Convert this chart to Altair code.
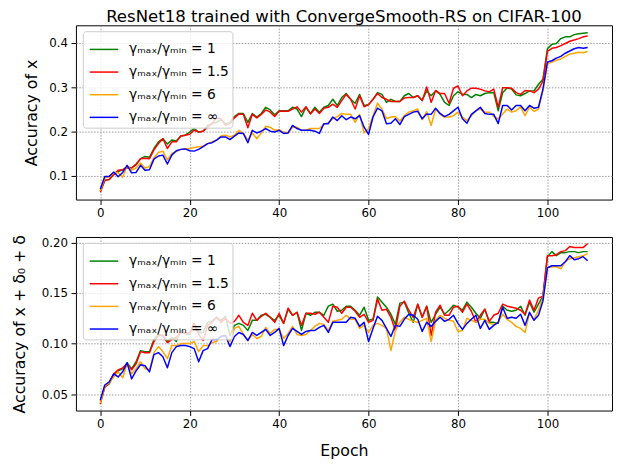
import altair as alt
import pandas as pd

epochs = list(range(110))
series_labels = ["γₘₐₓ/γₘᵢₙ = 1", "γₘₐₓ/γₘᵢₙ = 1.5", "γₘₐₓ/γₘᵢₙ = 6", "γₘₐₓ/γₘᵢₙ = ∞"]
series_colors = ["green", "red", "orange", "blue"]

top_g = [0.066, 0.090, 0.092, 0.103, 0.110, 0.114, 0.121, 0.118, 0.127, 0.139,
         0.144, 0.142, 0.162, 0.177, 0.184, 0.172, 0.181, 0.179, 0.190, 0.192,
         0.199, 0.207, 0.199, 0.201, 0.214, 0.218, 0.221, 0.227, 0.218, 0.221,
         0.234, 0.241, 0.241, 0.221, 0.241, 0.233, 0.241, 0.255, 0.249, 0.238,
         0.247, 0.247, 0.247, 0.255, 0.251, 0.234, 0.255, 0.241, 0.255, 0.244,
         0.255, 0.259, 0.273, 0.259, 0.277, 0.286, 0.273, 0.264, 0.284, 0.259,
         0.261, 0.273, 0.288, 0.284, 0.266, 0.273, 0.268, 0.268, 0.281, 0.286,
         0.277, 0.281, 0.271, 0.292, 0.281, 0.292, 0.284, 0.266, 0.259, 0.281,
         0.290, 0.284, 0.284, 0.277, 0.284, 0.281, 0.286, 0.288, 0.288, 0.247,
         0.288, 0.299, 0.296, 0.283, 0.281, 0.286, 0.292, 0.292, 0.307, 0.318,
         0.387, 0.397, 0.399, 0.410, 0.414, 0.414, 0.419, 0.421, 0.422, 0.423]
top_r = [0.063, 0.090, 0.092, 0.103, 0.113, 0.114, 0.118, 0.118, 0.125, 0.139,
         0.140, 0.139, 0.159, 0.173, 0.184, 0.162, 0.177, 0.177, 0.190, 0.192,
         0.194, 0.203, 0.199, 0.201, 0.210, 0.218, 0.231, 0.229, 0.214, 0.218,
         0.231, 0.240, 0.239, 0.209, 0.239, 0.231, 0.239, 0.249, 0.244, 0.234,
         0.246, 0.246, 0.246, 0.251, 0.256, 0.244, 0.256, 0.240, 0.251, 0.241,
         0.253, 0.255, 0.262, 0.255, 0.270, 0.284, 0.273, 0.251, 0.281, 0.256,
         0.261, 0.273, 0.286, 0.277, 0.273, 0.268, 0.268, 0.268, 0.276, 0.277,
         0.277, 0.281, 0.270, 0.301, 0.266, 0.293, 0.286, 0.286, 0.264, 0.298,
         0.303, 0.281, 0.292, 0.298, 0.298, 0.296, 0.292, 0.290, 0.296, 0.255,
         0.299, 0.299, 0.298, 0.288, 0.284, 0.293, 0.292, 0.288, 0.296, 0.314,
         0.381, 0.388, 0.390, 0.394, 0.399, 0.404, 0.407, 0.410, 0.414, 0.416]
top_o = [0.066, 0.096, 0.098, 0.107, 0.107, 0.097, 0.123, 0.113, 0.118, 0.129,
         0.118, 0.121, 0.141, 0.153, 0.156, 0.136, 0.151, 0.155, 0.160, 0.161,
         0.162, 0.164, 0.166, 0.167, 0.173, 0.177, 0.181, 0.190, 0.192, 0.188,
         0.192, 0.203, 0.196, 0.181, 0.197, 0.184, 0.197, 0.212, 0.210, 0.203,
         0.204, 0.199, 0.197, 0.210, 0.210, 0.203, 0.203, 0.207, 0.207, 0.207,
         0.216, 0.221, 0.229, 0.234, 0.241, 0.239, 0.239, 0.221, 0.239, 0.197,
         0.207, 0.236, 0.264, 0.251, 0.229, 0.233, 0.234, 0.224, 0.236, 0.244,
         0.247, 0.251, 0.227, 0.245, 0.214, 0.251, 0.239, 0.233, 0.233, 0.236,
         0.244, 0.233, 0.225, 0.236, 0.247, 0.251, 0.244, 0.244, 0.234, 0.229,
         0.240, 0.251, 0.244, 0.247, 0.256, 0.236, 0.255, 0.246, 0.251, 0.292,
         0.353, 0.357, 0.361, 0.364, 0.370, 0.375, 0.377, 0.379, 0.378, 0.381]
top_b = [0.070, 0.099, 0.099, 0.109, 0.098, 0.108, 0.124, 0.107, 0.108, 0.124,
         0.113, 0.114, 0.138, 0.145, 0.147, 0.127, 0.147, 0.157, 0.160, 0.161,
         0.157, 0.156, 0.160, 0.166, 0.173, 0.175, 0.181, 0.188, 0.188, 0.182,
         0.190, 0.197, 0.196, 0.175, 0.203, 0.197, 0.201, 0.207, 0.201, 0.199,
         0.203, 0.196, 0.197, 0.214, 0.207, 0.203, 0.203, 0.203, 0.201, 0.196,
         0.218, 0.218, 0.233, 0.225, 0.236, 0.227, 0.233, 0.229, 0.236, 0.210,
         0.194, 0.233, 0.253, 0.247, 0.218, 0.219, 0.229, 0.216, 0.234, 0.239,
         0.244, 0.246, 0.229, 0.240, 0.239, 0.253, 0.241, 0.234, 0.239, 0.247,
         0.255, 0.229, 0.219, 0.239, 0.247, 0.255, 0.241, 0.239, 0.239, 0.218,
         0.259, 0.259, 0.249, 0.259, 0.259, 0.247, 0.259, 0.253, 0.255, 0.296,
         0.357, 0.360, 0.366, 0.370, 0.377, 0.382, 0.387, 0.390, 0.388, 0.390]

bot_g = [0.043, 0.057, 0.060, 0.069, 0.073, 0.075, 0.081, 0.075, 0.082, 0.093,
         0.092, 0.092, 0.104, 0.109, 0.108, 0.102, 0.106, 0.102, 0.113, 0.110,
         0.109, 0.120, 0.111, 0.111, 0.121, 0.122, 0.126, 0.123, 0.127, 0.108,
         0.118, 0.120, 0.118, 0.113, 0.123, 0.123, 0.128, 0.129, 0.126, 0.123,
         0.128, 0.120, 0.134, 0.128, 0.131, 0.113, 0.130, 0.128, 0.131, 0.131,
         0.128, 0.137, 0.139, 0.132, 0.133, 0.137, 0.137, 0.133, 0.128, 0.136,
         0.123, 0.124, 0.146, 0.141, 0.136, 0.129, 0.119, 0.140, 0.141, 0.130,
         0.121, 0.139, 0.126, 0.137, 0.121, 0.129, 0.136, 0.129, 0.133, 0.138,
         0.136, 0.133, 0.141, 0.136, 0.130, 0.125, 0.134, 0.121, 0.121, 0.120,
         0.137, 0.133, 0.132, 0.133, 0.137, 0.128, 0.141, 0.131, 0.139, 0.147,
         0.186, 0.191, 0.187, 0.190, 0.190, 0.191, 0.191, 0.190, 0.191, 0.191]
bot_r = [0.040, 0.057, 0.061, 0.070, 0.074, 0.076, 0.080, 0.074, 0.080, 0.092,
         0.091, 0.091, 0.102, 0.108, 0.108, 0.101, 0.104, 0.106, 0.111, 0.110,
         0.111, 0.120, 0.109, 0.103, 0.118, 0.121, 0.126, 0.121, 0.125, 0.120,
         0.122, 0.128, 0.121, 0.118, 0.130, 0.123, 0.127, 0.130, 0.126, 0.121,
         0.130, 0.120, 0.135, 0.128, 0.131, 0.118, 0.130, 0.130, 0.129, 0.131,
         0.126, 0.121, 0.137, 0.136, 0.130, 0.136, 0.136, 0.132, 0.126, 0.129,
         0.121, 0.123, 0.144, 0.133, 0.134, 0.126, 0.113, 0.137, 0.142, 0.133,
         0.126, 0.139, 0.126, 0.137, 0.108, 0.131, 0.138, 0.128, 0.128, 0.136,
         0.137, 0.131, 0.139, 0.132, 0.121, 0.128, 0.134, 0.122, 0.128, 0.130,
         0.139, 0.137, 0.136, 0.135, 0.133, 0.129, 0.143, 0.133, 0.145, 0.147,
         0.187, 0.187, 0.188, 0.191, 0.192, 0.196, 0.195, 0.195, 0.195, 0.199]
bot_o = [0.041, 0.058, 0.061, 0.067, 0.072, 0.066, 0.080, 0.070, 0.075, 0.082,
         0.075, 0.074, 0.091, 0.097, 0.092, 0.085, 0.098, 0.098, 0.100, 0.100,
         0.100, 0.102, 0.092, 0.098, 0.098, 0.101, 0.102, 0.108, 0.108, 0.102,
         0.115, 0.117, 0.109, 0.103, 0.109, 0.105, 0.107, 0.116, 0.110, 0.114,
         0.114, 0.105, 0.110, 0.117, 0.109, 0.108, 0.109, 0.113, 0.117, 0.120,
         0.119, 0.113, 0.122, 0.123, 0.124, 0.128, 0.124, 0.124, 0.115, 0.118,
         0.111, 0.118, 0.120, 0.118, 0.115, 0.093, 0.113, 0.121, 0.126, 0.124,
         0.122, 0.121, 0.123, 0.125, 0.102, 0.123, 0.128, 0.125, 0.123, 0.122,
         0.112, 0.113, 0.125, 0.123, 0.121, 0.124, 0.124, 0.120, 0.119, 0.121,
         0.129, 0.124, 0.121, 0.117, 0.115, 0.111, 0.130, 0.124, 0.133, 0.145,
         0.175, 0.176, 0.176, 0.174, 0.181, 0.184, 0.185, 0.186, 0.187, 0.189]
bot_b = [0.044, 0.059, 0.062, 0.070, 0.067, 0.072, 0.081, 0.065, 0.073, 0.079,
         0.078, 0.072, 0.089, 0.091, 0.087, 0.076, 0.091, 0.097, 0.098, 0.098,
         0.097, 0.095, 0.082, 0.093, 0.095, 0.104, 0.104, 0.107, 0.108, 0.097,
         0.107, 0.111, 0.109, 0.103, 0.111, 0.108, 0.111, 0.114, 0.108, 0.111,
         0.115, 0.098, 0.108, 0.115, 0.112, 0.109, 0.112, 0.113, 0.113, 0.116,
         0.118, 0.111, 0.121, 0.121, 0.121, 0.121, 0.126, 0.125, 0.117, 0.121,
         0.102, 0.115, 0.127, 0.123, 0.115, 0.107, 0.118, 0.117, 0.124, 0.129,
         0.128, 0.124, 0.112, 0.121, 0.117, 0.122, 0.126, 0.122, 0.124, 0.128,
         0.120, 0.114, 0.120, 0.124, 0.128, 0.115, 0.123, 0.114, 0.118, 0.121,
         0.136, 0.125, 0.126, 0.125, 0.129, 0.118, 0.131, 0.123, 0.128, 0.142,
         0.175, 0.177, 0.177, 0.177, 0.181, 0.187, 0.183, 0.184, 0.186, 0.182]

x_ticks = [0, 20, 40, 60, 80, 100]
top_ticks = [0.1, 0.2, 0.3, 0.4]
bot_ticks = [0.05, 0.10, 0.15, 0.20]


def long_frame(series_list):
    rows = []
    for label, vals in zip(series_labels, series_list):
        for e, v in zip(epochs, vals):
            rows.append({"epoch": e, "value": v, "series": label})
    return pd.DataFrame(rows)


def make_legend():
    return alt.Legend(
        title=None, orient="none", legendX=7, legendY=6,
        symbolType="stroke", symbolSize=841, symbolStrokeWidth=1.5, symbolOffset=3,
        labelFontSize=14, labelColor="black", labelOffset=10,
        padding=3, rowPadding=-3,
        fillColor="rgba(255,255,255,0.8)", strokeColor="#cccccc", cornerRadius=3,
    )


def panel(df, ydomain, yticks, yfmt, ytitle, title_x, xtitle, height, title=None):
    props = dict(width=544.5, height=height)
    if title is not None:
        props["title"] = title
    return alt.Chart(df).mark_line(strokeWidth=1.5, strokeJoin="round", clip=True).encode(
        x=alt.X("epoch:Q",
                scale=alt.Scale(domain=[-5.45, 114.45], nice=False, zero=False),
                axis=alt.Axis(values=x_ticks, title=xtitle, format="d", titlePadding=13)),
        y=alt.Y("value:Q",
                scale=alt.Scale(domain=ydomain, nice=False, zero=False),
                axis=alt.Axis(values=yticks, format=yfmt, title=ytitle,
                              titleX=title_x, titleBaseline="middle")),
        color=alt.Color("series:N",
                        scale=alt.Scale(domain=series_labels, range=series_colors),
                        sort=series_labels, legend=make_legend()),
    ).properties(**props)


top = panel(long_frame([top_g, top_r, top_o, top_b]), [0.0467, 0.44], top_ticks, ".1f",
            "Accuracy of x", -45, None, 177,
            title=alt.TitleParams("ResNet18 trained with ConvergeSmooth-RS on CIFAR-100",
                                  fontSize=16.8, fontWeight="normal", anchor="middle",
                                  frame="group", baseline="alphabetic", offset=-13.5,
                                  color="black"))
bottom = panel(long_frame([bot_g, bot_r, bot_o, bot_b]), [0.0337, 0.2055], bot_ticks, ".2f",
               "Accuracy of x + δ₀ + δ", -57.5, "Epoch", 176.3)

chart = alt.vconcat(top, bottom, spacing=38, bounds="flush").resolve_legend(
    color="independent"
).properties(
    padding={"left": 2, "top": -3, "right": 0, "bottom": 0},
    background="white",
).configure(
    font="DejaVu Sans",
).configure_view(
    stroke="black", strokeWidth=1,
).configure_axis(
    grid=True, gridColor="#999999", gridDash=[1.5, 1.5], gridWidth=1,
    domain=False, tickColor="black", tickWidth=1, tickSize=5,
    labelColor="black", labelFontSize=12, labelPadding=3.5,
    titleFontSize=16, titleFontWeight="normal", titleColor="black", titlePadding=6,
)

chart.save("out.html", embed_options={"renderer": "svg", "actions": False})
